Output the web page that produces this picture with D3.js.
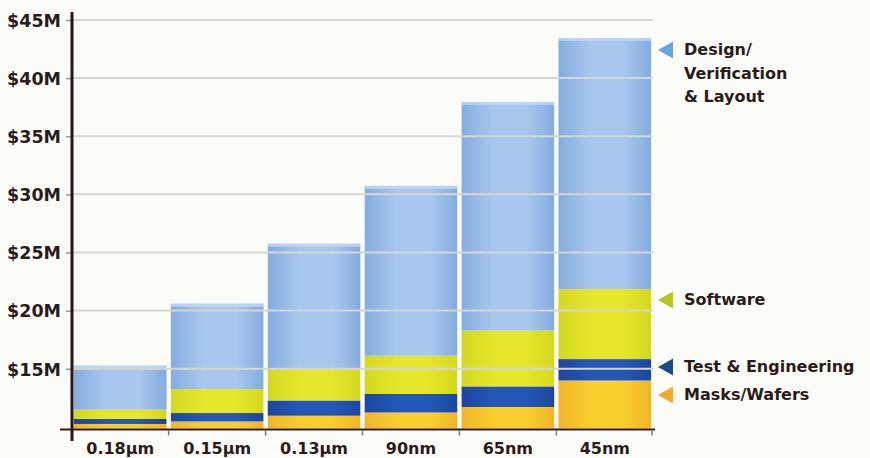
<!DOCTYPE html>
<html>
<head>
<meta charset="utf-8">
<script src="https://cdn.jsdelivr.net/npm/d3@7"></script>
<style>
  html, body { margin: 0; padding: 0; background: #fbfbf8; }
  svg { display: block; }
</style>
</head>
<body>
<div id="chart"></div>
<script>
// ---- data ----
const categories = ["0.18µm", "0.15µm", "0.13µm", "90nm", "65nm", "45nm"];
const seriesNames = ["Masks/Wafers", "Test & Engineering", "Software", "Design/Verification & Layout"];
// segment values ($M), stacked from the bottom (axis starts near $10M)
const masksWafers   = [10.25, 10.47, 10.96, 11.24, 11.71, 13.99];
const testEng       = [0.43, 0.72, 1.31, 1.59, 1.77, 1.84];
const software      = [0.80, 2.06, 2.70, 3.29, 4.81, 6.02];
const designVerif   = [3.78, 7.34, 10.78, 14.61, 19.66, 21.60];
const yTicks = [15, 20, 25, 30, 35, 40, 45];
const yTickLabels = ["$15M", "$20M", "$25M", "$30M", "$35M", "$40M", "$45M"];
const legendLabels = [["Design/", "Verification", "& Layout"], ["Software"], ["Test & Engineering"], ["Masks/Wafers"]];

const W = 870, H = 458;
const svg = d3.select("#chart").append("svg").attr("width", W).attr("height", H);
svg.append("rect").attr("width", W).attr("height", H).attr("fill", "#fbfbf8");

const x0 = 72, x1 = 653, yBase = 428.5;
const x = d3.scaleBand().domain(categories).range([x0, x1]).paddingInner(0.045).paddingOuter(0.02);
const y = d3.scaleLinear().domain([9.86, 45]).range([yBase, 20]);

const rows = categories.map((c, i) => ({
  cat: c, m: masksWafers[i], t: testEng[i], s: software[i], d: designVerif[i]
}));
const stack = d3.stack().keys(["m", "t", "s", "d"]);
const series = stack(rows);

const colors = {
  m: ["#f3b42a", "#f8cf2e"],
  t: ["#1b46a0", "#2458b8"],
  s: ["#d2d820", "#e6e62a"],
  d: ["#84ace0", "#a9c7ee"]
};
const defs = svg.append("defs");
Object.entries(colors).forEach(([k, [edge, mid]]) => {
  const g = defs.append("linearGradient").attr("id", "g_" + k)
    .attr("x1", "0").attr("x2", "1").attr("y1", "0").attr("y2", "0");
  g.append("stop").attr("offset", "0%").attr("stop-color", edge);
  g.append("stop").attr("offset", "35%").attr("stop-color", mid);
  g.append("stop").attr("offset", "70%").attr("stop-color", mid);
  g.append("stop").attr("offset", "100%").attr("stop-color", edge);
});

// bars
const gBars = svg.append("g");
series.forEach(s => {
  gBars.selectAll(null).data(s).enter().append("rect")
    .attr("x", d => x(d.data.cat))
    .attr("width", x.bandwidth())
    .attr("y", d => y(d[1]))
    .attr("height", d => Math.max(0, y(Math.max(d[0], y.domain()[0])) - y(d[1])))
    .attr("fill", "url(#g_" + s.key + ")");
});
// lighter top strip on design segments
gBars.selectAll(null).data(series[3]).enter().append("rect")
  .attr("x", d => x(d.data.cat)).attr("width", x.bandwidth())
  .attr("y", d => y(d[1])).attr("height", 3)
  .attr("fill", "#c4d8f2").attr("opacity", 0.8);

// gridlines (over bars)
svg.append("g").selectAll("line").data(yTicks).enter().append("line")
  .attr("x1", x0).attr("x2", x1)
  .attr("y1", d => y(d)).attr("y2", d => y(d))
  .attr("stroke", "#d6d6d2").attr("stroke-width", 2);

// y axis
const yAxis = d3.axisLeft(y).tickValues(yTicks).tickFormat((d, i) => yTickLabels[i]).tickSize(6).tickPadding(5);
const gy = svg.append("g").attr("transform", `translate(${x0},0)`).call(yAxis);
gy.select(".domain").remove();
gy.selectAll(".tick line").attr("stroke", "#9a9a9a").attr("stroke-width", 1.5);
gy.selectAll(".tick text")
  .attr("fill", "#2b1b1b").attr("font-family", "'DejaVu Sans', sans-serif")
  .attr("font-weight", "bold").attr("font-size", 17.5).attr("dy", "0.36em");
svg.append("line").attr("x1", x0).attr("x2", x0).attr("y1", 12).attr("y2", 441)
  .attr("stroke", "#2a1414").attr("stroke-width", 3);

// x axis
const xAxis = d3.axisBottom(x).tickSize(0).tickPadding(14);
const gx = svg.append("g").attr("transform", `translate(0,${yBase})`).call(xAxis);
gx.select(".domain").remove();
gx.selectAll(".tick text")
  .attr("fill", "#2b1b1b").attr("font-family", "'DejaVu Sans', sans-serif")
  .attr("font-weight", "bold").attr("font-size", 16);
svg.append("line").attr("x1", 60).attr("x2", x1 + 2).attr("y1", yBase + 1).attr("y2", yBase + 1)
  .attr("stroke", "#3a1a12").attr("stroke-width", 2);
// small ticks at band boundaries
const bounds = categories.slice(1).map(c => x(c) - x.step() * x.paddingInner() / 2).concat([x1 - 1]);
svg.append("g").selectAll("line").data(bounds).enter().append("line")
  .attr("x1", d => d).attr("x2", d => d)
  .attr("y1", yBase + 2).attr("y2", yBase + 7)
  .attr("stroke", "#7a7a7a").attr("stroke-width", 1.5);

// legend
const legendY = [50, 300, 367, 395];
const legendCol = ["#6fa3de", "#b9c61e", "#1c4a8c", "#f4a92a"];
const lg = svg.append("g");
legendLabels.forEach((lines, i) => {
  const cy = legendY[i];
  lg.append("path")
    .attr("d", `M658,${cy} L673,${cy - 8.5} L673,${cy + 8.5} Z`)
    .attr("fill", legendCol[i]);
  const t = lg.append("text")
    .attr("x", 684).attr("y", cy + 5)
    .attr("fill", "#2b1b1b").attr("font-family", "'DejaVu Sans', sans-serif")
    .attr("font-weight", "bold").attr("font-size", 16);
  lines.forEach((ln, j) => {
    t.append("tspan").attr("x", 684).attr("dy", j === 0 ? 0 : 23.5).text(ln);
  });
});
</script>
</body>
</html>
